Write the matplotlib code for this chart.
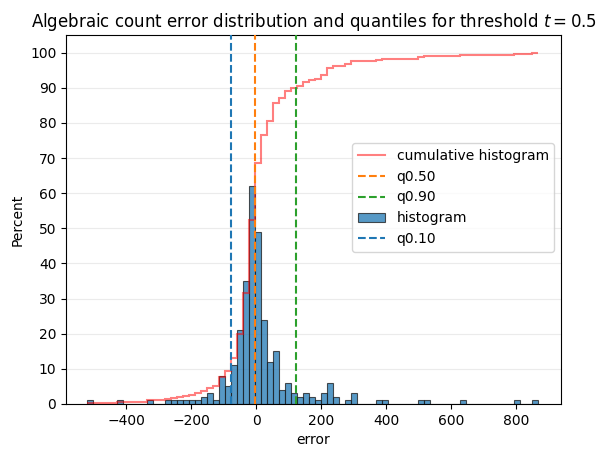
import numpy as np
import matplotlib.pyplot as plt

# histogram of algebraic count error, fixed bins
bin_start = -521.0
bin_width = 18.5
counts = [1, 0, 0, 0, 0, 1, 0, 0, 0, 0, 1, 0, 0,
          1, 1, 1, 1, 1, 1, 2, 3, 1, 8, 5, 11, 21, 35, 62, 49,
          24, 12, 15, 4, 6, 3, 2, 3, 2, 1, 3, 6, 2, 0, 1, 3,
          0, 0, 0, 1, 1, 0, 0, 0, 0, 0, 1, 1, 0, 0, 0, 0, 0,
          1, 0, 0, 0, 0, 0, 0, 0, 0, 1, 0, 0, 1]
quantiles = {'q0.10': -77, 'q0.50': -3, 'q0.90': 123}
q_colors = ['#1f77b4', '#ff7f0e', '#2ca02c']

counts = np.array(counts, dtype=float)
edges = bin_start + bin_width * np.arange(len(counts) + 1)
cum = np.cumsum(counts) / counts.sum() * 100

fig, ax = plt.subplots(figsize=(6.06, 4.57), dpi=100)
fig.subplots_adjust(left=0.109, right=0.926, top=0.923, bottom=0.116)

ax.grid(axis='y', color='#ebebeb', lw=0.8, zorder=0)
ax.set_axisbelow(True)

ax.stairs(cum, edges, baseline=None, color='red', alpha=0.5, lw=1.5,
          label='cumulative histogram', zorder=3)
ax.bar(edges[:-1], counts, width=bin_width, align='edge', color='#1f77b4',
       alpha=0.75, edgecolor='#1a1a1a', linewidth=0.8, label='histogram', zorder=2)
for (name, q), c in zip(quantiles.items(), q_colors):
    ax.axvline(q, color=c, ls='--', lw=1.5, label=name, zorder=4)

ax.set_xlim(-585, 938)
ax.set_ylim(0, 105)
ax.set_yticks(np.arange(0, 101, 10))
ax.set_xlabel('error')
ax.set_ylabel('Percent')
ax.set_title('Algebraic count error distribution and quantiles for threshold $t = 0.5$')

h, l = ax.get_legend_handles_labels()
order = [0, 2, 3, 4, 1]
ax.legend([h[i] for i in order], [l[i] for i in order], loc='center right',
          bbox_to_anchor=(1.0, 0.56))

fig.savefig('out.png')
